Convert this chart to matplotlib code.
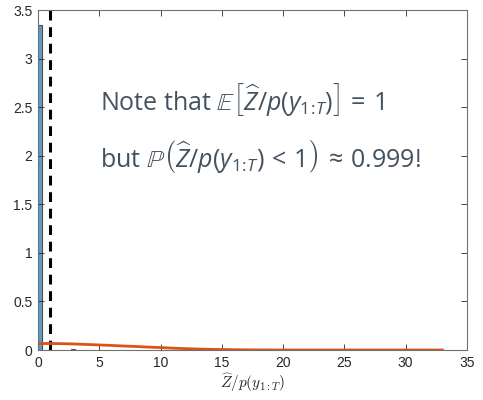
import numpy as np
import matplotlib
matplotlib.use("Agg")
from matplotlib import pyplot as plt

# histogram of the normalised estimator (density), left bin edges
bin_left = [0.0, 2.7]
bin_density = [3.35, 0.01]
bin_width = 0.3

# kernel density estimate of the same samples
kde_x = [0, 1, 2, 3, 4, 5, 6, 7, 8, 9, 10, 11, 12, 13, 14, 15, 16, 17, 18,
         19, 20, 22, 24, 26, 28, 30, 33]
kde_y = [0.066, 0.067, 0.065, 0.062, 0.057, 0.052, 0.047, 0.041, 0.036,
         0.030, 0.025, 0.019, 0.014, 0.010, 0.007, 0.005, 0.003, 0.002,
         0.001, 0.0005, 0.0, 0.0, 0.0, 0.0, 0.0, 0.0, 0.0]

# true value of the ratio
true_ratio = 1.0

xticks = [0, 5, 10, 15, 20, 25, 30, 35]
yticks = [0, 0.5, 1, 1.5, 2, 2.5, 3, 3.5]

plt.rcParams['font.family'] = ['Liberation Sans', 'DejaVu Sans']
plt.rcParams['mathtext.fontset'] = 'custom'
plt.rcParams['mathtext.rm'] = 'Open Sans'
plt.rcParams['mathtext.it'] = 'Open Sans:italic'
plt.rcParams['mathtext.bf'] = 'Open Sans:bold'
plt.rcParams['mathtext.fallback'] = 'cm'

fig = plt.figure(figsize=(4.83, 4.0), dpi=100)
ax = fig.add_axes([0.0787, 0.125, 0.888, 0.85])

ax.bar(bin_left, bin_density, width=bin_width, align='edge',
       color='#5a9fd0', edgecolor='#4d4d4d', linewidth=0.8)
ax.plot([true_ratio, true_ratio], [0, 3.5], '--', color='black', lw=2.2,
        dashes=(3.2, 2.2))
ax.plot(kde_x, kde_y, '-', color='#D95319', lw=2)

ax.set_xlim(0, 35)
ax.set_ylim(0, 3.5)
ax.set_xticks(xticks)
ax.set_yticks(yticks)
ax.set_xticklabels([str(t) for t in xticks])
ax.set_yticklabels(['0', '0.5', '1', '1.5', '2', '2.5', '3', '3.5'])
ax.tick_params(direction='in', top=True, right=True, length=4, width=0.6,
               labelsize=10, colors='#262626', pad=4)
for s in ax.spines.values():
    s.set_color('#707070')
    s.set_linewidth(0.8)

ax.set_xlabel(r'$\widehat{Z}/p(y_{1:T})$', fontsize=11, math_fontfamily='cm',
              labelpad=1, color='#262626')

txt_col = '#425260'
ax.text(0.1445, 0.706,
        r'Note that $\mathbb{E}\left[\widehat{Z}/p(y_{1\!:\!T})\right]\,=\,1$',
        transform=ax.transAxes, fontsize=18, color=txt_col,
        family='Open Sans', va='baseline')
ax.text(0.1445, 0.538,
        r'but $\mathbb{P}\left(\widehat{Z}/p(y_{1\!:\!T})\,<\,1\right)\,\approx\,0.999!$',
        transform=ax.transAxes, fontsize=18, color=txt_col,
        family='Open Sans', va='baseline')

fig.savefig('out.png', dpi=100)
